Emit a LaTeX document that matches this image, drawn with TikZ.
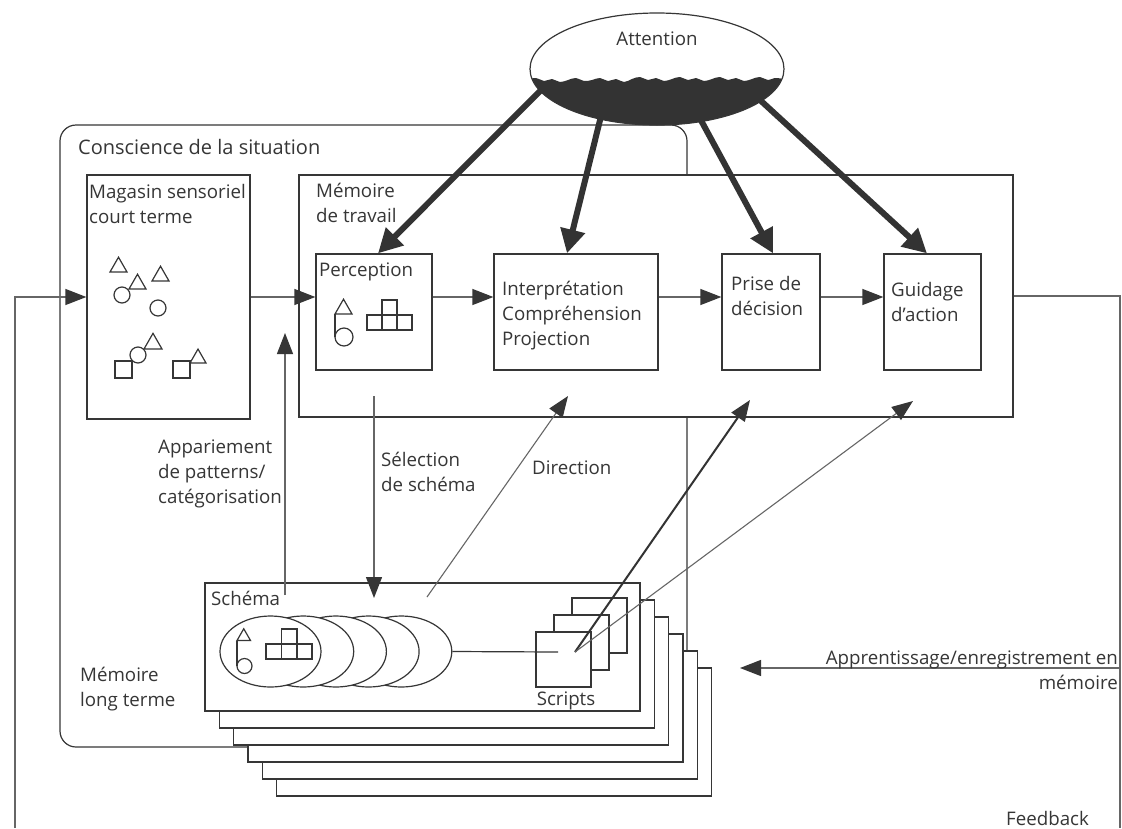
\documentclass[tikz,border=0pt]{standalone}
\usepackage{fontspec}
\setmainfont{Open Sans}
\usetikzlibrary{arrows.meta,shapes.geometric}
\definecolor{ink}{HTML}{363636}
\definecolor{wire}{HTML}{666666}
\definecolor{blob}{HTML}{333333}
\newcommand\mytri[3]{\draw[shp] (#1,#2) -- ++(#3,0) -- ++(-#3/2,-#3*0.87) -- cycle;}
\newcommand\mysq[3]{\draw[shp] (#1,#2) rectangle ++(#3,#3);}
\begin{document}
\begin{tikzpicture}[x=1pt,y=-1pt,
  box/.style={draw=ink, line width=1.3pt, fill=white, rectangle, inner sep=0pt},
  wire/.style={draw=wire, line width=1.3pt},
  arr/.style={wire, -{Triangle[length=21pt,width=16pt,color=ink]}},
  fatarr/.style={draw=blob, line width=6pt, -{Triangle[length=24pt,width=24pt]}},
  lbl/.style={text=ink, inner sep=0pt, align=left, font=\fontsize{18.7}{25}\selectfont},
  shp/.style={draw=ink, line width=1.2pt},
]
\useasboundingbox (0,0) rectangle (1122,828);
\fill[white] (0,0) rectangle (1122,828);

% situation awareness frame
\draw[draw=ink, line width=1.2pt, rounded corners=16pt] (687,747) -- (687,125) -- (60,125) -- (60,747) -- cycle;

% boxes
\node[box, minimum width=163pt, minimum height=244pt] (mag) at (168.5,297) {};
\node[box, minimum width=714pt, minimum height=242pt] (wm) at (656,296) {};
\node[box, minimum width=116pt, minimum height=116pt] (perc) at (374,312) {};
\node[box, minimum width=164pt, minimum height=116pt] (interp) at (576,312) {};
\node[box, minimum width=98pt, minimum height=116pt] (prise) at (771,312) {};
\node[box, minimum width=97pt, minimum height=116pt] (guid) at (932.5,312) {};

% shapes in sensory store
\mytri{110}{272}{17}
\mytri{129}{289}{17}
\mytri{152}{281}{17}
\mytri{144}{349}{18}
\mytri{190}{363}{16}
\draw[shp] (122,295) circle[radius=8pt];
\draw[shp] (158,308) circle[radius=8pt];
\draw[shp] (138,355) circle[radius=8pt];
\mysq{115}{361}{17}
\mysq{173}{361}{17}

% shapes in perception
\mytri{335}{314}{17}
\draw[shp] (335,314) -- (335,337);
\draw[shp] (344,337) circle[radius=9pt];
\draw[shp] (367,315) rectangle (412,330);
\draw[shp] (382,300) rectangle (397,330);

% horizontal flow
\draw[arr] (mag.east) -- (perc.west |- mag);
\draw[arr] (perc.east |- mag) -- (interp.west |- mag);
\draw[arr] (interp.east |- mag) -- (prise.west |- mag);
\draw[arr] (prise.east |- mag) -- (guid.west |- mag);

% feedback loop
\coordinate (fbL) at (15,828);
\coordinate (fbR) at (1120,828);
\draw[arr] (fbL) |- (mag.west);
\draw[wire] (wm.east) -| (fbR);
\coordinate (appR) at (1120,668);
\coordinate (appT) at (740,668);
\draw[arr] (appR) -- (appT);

% attention
\begin{scope}
\clip (657pt,-69pt) ellipse [x radius=127pt, y radius=56pt];
\fill[blob] plot[smooth, tension=0.7] coordinates {(526,80) (536,78) (544,81) (552,79) (560,82) (568,80) (576,78) (584,81) (592,80) (600,78) (608,81) (616,79) (624,82) (632,79) (640,77) (648,80) (656,78) (664,81) (672,79) (680,77) (688,80) (696,78) (704,81) (712,79) (720,77) (728,80) (736,78) (744,81) (752,79) (760,77) (768,80) (776,78) (788,80)} -- (790,130) -- (524,130) -- cycle;
\end{scope}
\node[ellipse, draw=ink, line width=1.2pt, minimum width=254pt, minimum height=112pt, inner sep=0pt] (att) at (657,69) {};
\coordinate (a1) at (541,90);
\coordinate (a2) at (605,100);
\coordinate (a3) at (690,100);
\coordinate (a4) at (760,100);
\draw[fatarr] (a1) -- ([xshift=4pt]perc.north);
\draw[fatarr] (a2) -- ([xshift=-9pt]interp.north);
\draw[fatarr] (a3) -- ([xshift=2pt]prise.north);
\draw[fatarr] (a4) -- ([xshift=-5.5pt]guid.north);

% long-term memory stack
\foreach \i in {5,4,...,0}{
  \pgfmathsetmacro\cx{422.5+14.35*\i}
  \pgfmathsetmacro\cy{647+17*\i}
  \node[box, minimum width=435pt, minimum height=128pt] (stack\i) at (\cx,\cy) {};
}
\foreach \k in {4,3,2,1,0}{
  \pgfmathsetmacro\ex{270.5+32.7*\k}
  \node[ellipse, draw=ink, line width=1.2pt, fill=white, minimum width=101pt, minimum height=71pt, inner sep=0pt] (el\k) at (\ex,651.5) {};
}
% pattern in schema
\mytri{237}{640.5}{13.5}
\draw[shp] (237,640.5) -- (237,666);
\draw[shp] (244.5,666) circle[radius=7.5pt];
\draw[shp] (266,644) rectangle (312,659);
\draw[shp] (281.5,629) rectangle (297,659);

% scripts
\node[box, minimum size=55pt] (sc2) at (599.5,625.5) {};
\node[box, minimum size=55pt] (sc1) at (581.5,642.5) {};
\node[box, minimum size=55pt] (sc0) at (563.5,659.5) {};
\coordinate (scin) at (558,652);
\coordinate (scout) at (575,652);
\draw[draw=ink, line width=1.2pt] (el4.east) -- (scin);

% vertical connectors
\coordinate (selTop) at (374,396);
\coordinate (selEnd) at (374,598);
\draw[arr] (selTop) -- (selEnd);
\coordinate (appBot) at (285,595);
\coordinate (appTop) at (285,333);
\draw[arr] (appBot) -- (appTop);
\coordinate (dirS) at (427,597);
\coordinate (dirE) at (568,396);
\draw[arr, line width=1.1pt] (dirS) -- (dirE);
\coordinate (s1E) at (750,400);
\coordinate (s2E) at (913,401);
\draw[draw=blob, line width=2pt, -{Triangle[length=21pt,width=16pt,color=ink]}] (scout) -- (s1E);
\draw[arr, line width=1.1pt] (scout) -- (s2E);

% labels
\node[lbl, anchor=north] (tAtt) at (657,27.5) {\strut Attention};
\node[lbl, anchor=north west] (tConsc) at (78,136) {\fontsize{20}{26}\selectfont\strut Conscience de la situation};
\node[lbl, anchor=north west] (tMag) at (89,180.5) {\strut Magasin sensoriel\\court terme};
\node[lbl, anchor=north west] (tWM) at (316,179.5) {\strut Mémoire\\de travail};
\node[lbl, anchor=north west] (tPerc) at (319,258.5) {\strut Perception};
\node[lbl, anchor=north west] (tInt) at (502,277.5) {\strut Interprétation\\Compréhension\\Projection};
\node[lbl, anchor=north west] (tPrise) at (731,272.5) {\strut Prise de\\décision};
\node[lbl, anchor=north west] (tGuid) at (891,278.5) {\strut Guidage\\d’action};
\node[lbl, anchor=north west] (tApp) at (158,435.5) {\strut Appariement\\de patterns/\\catégorisation};
\node[lbl, anchor=north west] (tSel) at (381,448.5) {\strut Sélection\\de schéma};
\node[lbl, anchor=north west] (tDir) at (532,456.5) {\strut Direction};
\node[lbl, anchor=north west] (tSch) at (211,587.5) {\strut Schéma};
\node[lbl, anchor=north] (tScr) at (566,687.5) {\strut Scripts};
\node[lbl, anchor=north west] (tLTM) at (80,663.5) {\strut Mémoire\\long terme};
\node[lbl, anchor=north east, align=right] (tLearn) at (1118,646.5) {\strut Apprentissage/enregistrement en\\mémoire};
\node[lbl, anchor=base west] (tFb) at (1006,825) {Feedback};
\end{tikzpicture}
\end{document}
